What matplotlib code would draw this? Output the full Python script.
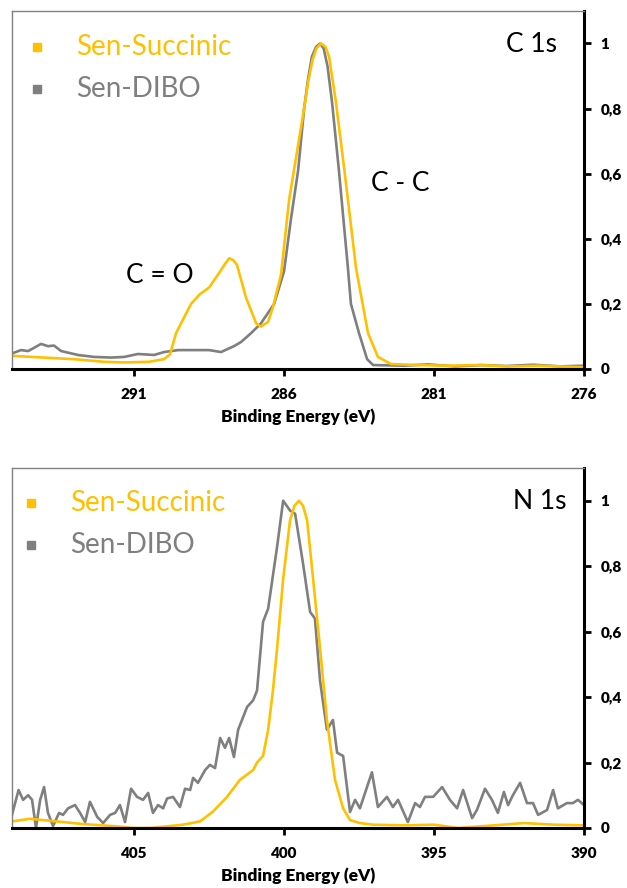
import matplotlib
matplotlib.use("Agg")
import matplotlib.pyplot as plt
from matplotlib.ticker import FuncFormatter

plt.rcParams['font.family'] = ['Lato', 'DejaVu Sans']

YELLOW = '#FFC000'
GREY = '#7F7F7F'

series_names = ['Sen-Succinic', 'Sen-DIBO']

# C 1s
c1s_succ_x = [295.0, 294.0, 293.0, 292.0, 291.3, 290.5, 290.0, 289.8, 289.6, 289.1, 288.8,
              288.5, 288.2, 287.95, 287.83, 287.7, 287.57, 287.27, 286.93, 286.77, 286.53,
              286.37, 286.1, 285.83, 285.67, 285.33, 285.2, 285.05, 284.92, 284.77, 284.62,
              284.5, 284.27, 284.0, 283.87, 283.6, 283.2, 282.87, 282.43, 281.5, 280.5,
              279.5, 278.5, 277.5, 276.5, 276.0]
c1s_succ_y = [0.040, 0.035, 0.030, 0.022, 0.020, 0.022, 0.030, 0.045, 0.11, 0.20, 0.23,
              0.25, 0.29, 0.325, 0.34, 0.335, 0.32, 0.22, 0.14, 0.13, 0.145,
              0.19, 0.29, 0.52, 0.61, 0.80, 0.88, 0.95, 0.985, 1.00, 0.99,
              0.96, 0.82, 0.62, 0.52, 0.31, 0.11, 0.037, 0.015, 0.012, 0.010,
              0.012, 0.008, 0.010, 0.007, 0.005]

c1s_dibo_x = [295.03, 294.77, 294.53, 294.1, 293.87, 293.67, 293.43, 292.87, 292.33, 291.77,
              291.33, 290.87, 290.33, 290.0, 289.53, 288.5, 288.1, 287.67, 287.43, 287.1,
              286.77, 286.33, 286.0, 285.77, 285.53, 285.33, 285.2, 285.07, 284.93, 284.8,
              284.68, 284.55, 284.4, 284.17, 283.87, 283.77, 283.5, 283.23, 283.03, 282.0,
              281.2, 280.3, 279.4, 278.6, 277.7, 276.8, 276.0]
c1s_dibo_y = [0.049, 0.058, 0.055, 0.077, 0.070, 0.072, 0.055, 0.043, 0.037, 0.035,
              0.037, 0.046, 0.043, 0.052, 0.058, 0.058, 0.052, 0.070, 0.083, 0.11,
              0.14, 0.20, 0.30, 0.46, 0.61, 0.80, 0.89, 0.96, 0.99, 1.00,
              0.985, 0.93, 0.82, 0.61, 0.31, 0.20, 0.11, 0.03, 0.012, 0.010,
              0.014, 0.008, 0.012, 0.009, 0.013, 0.008, 0.010]

# N 1s
n1s_succ_x = [409.0, 408.47, 407.8, 406.7, 405.6, 405.0, 404.47, 403.9, 403.37, 402.8,
              402.37, 401.9, 401.47, 401.03, 400.9, 400.7, 400.53, 400.37, 400.23, 400.03,
              399.8, 399.65, 399.5, 399.37, 399.23, 399.03, 398.8, 398.57, 398.3, 398.03,
              397.8, 397.47, 397.03, 396.0, 395.0, 394.2, 393.0, 392.0, 391.0, 390.0]
n1s_succ_y = [0.021, 0.028, 0.022, 0.012, 0.005, 0.0, 0.0, 0.005, 0.010, 0.020,
              0.050, 0.095, 0.147, 0.177, 0.20, 0.22, 0.30, 0.42, 0.55, 0.76,
              0.94, 0.985, 1.00, 0.985, 0.94, 0.76, 0.55, 0.33, 0.147, 0.06,
              0.024, 0.015, 0.010, 0.008, 0.010, 0.0, 0.008, 0.015, 0.010, 0.008]

n1s_dibo_x = [409.07, 408.85, 408.7, 408.53, 408.4, 408.27, 408.13, 408.0, 407.87, 407.7,
              407.5, 407.37, 407.2, 406.97, 406.8, 406.63, 406.47, 406.23, 406.03, 405.8,
              405.63, 405.47, 405.3, 405.1, 404.9, 404.7, 404.53, 404.37, 404.2, 404.03,
              403.9, 403.7, 403.47, 403.3, 403.13, 403.03, 402.87, 402.63, 402.47, 402.3,
              402.13, 401.97, 401.83, 401.67, 401.53, 401.23, 401.03, 400.9, 400.7, 400.53,
              400.23, 400.03, 399.8, 399.63, 399.37, 399.13, 398.97, 398.8, 398.57, 398.37,
              398.23, 398.03, 397.8, 397.63, 397.47, 397.07, 396.87, 396.57, 396.37, 396.2,
              395.87, 395.63, 395.47, 395.3, 395.03, 394.73, 394.47, 394.23, 394.03, 393.73,
              393.57, 393.3, 393.07, 392.87, 392.67, 392.53, 392.37, 392.13, 391.9, 391.7,
              391.53, 391.23, 391.03, 390.87, 390.57, 390.37, 390.2, 390.0]
n1s_dibo_y = [0.040, 0.116, 0.086, 0.100, 0.086, 0.0, 0.086, 0.125, 0.046, 0.006,
              0.046, 0.040, 0.060, 0.070, 0.046, 0.018, 0.080, 0.034, 0.015, 0.040,
              0.046, 0.070, 0.018, 0.120, 0.095, 0.086, 0.107, 0.046, 0.070, 0.060,
              0.090, 0.095, 0.064, 0.120, 0.116, 0.153, 0.138, 0.177, 0.193, 0.183,
              0.275, 0.245, 0.275, 0.217, 0.300, 0.370, 0.390, 0.420, 0.630, 0.670,
              0.860, 1.000, 0.970, 0.960, 0.810, 0.660, 0.640, 0.450, 0.300, 0.330,
              0.230, 0.220, 0.049, 0.086, 0.060, 0.170, 0.064, 0.095, 0.064, 0.086,
              0.018, 0.076, 0.064, 0.095, 0.095, 0.125, 0.086, 0.060, 0.116, 0.030,
              0.055, 0.120, 0.086, 0.046, 0.110, 0.070, 0.100, 0.138, 0.076, 0.076,
              0.040, 0.055, 0.116, 0.060, 0.076, 0.076, 0.086, 0.070]

c1s_ticks = [291, 286, 281, 276]
n1s_ticks = [405, 400, 395, 390]
y_ticks = [0, 0.2, 0.4, 0.6, 0.8, 1.0]

fig = plt.figure(figsize=(6.27, 8.88), dpi=100)
ax1 = fig.add_axes([0.0191, 0.5845, 0.9123, 0.4032])
ax2 = fig.add_axes([0.0191, 0.0676, 0.9123, 0.4054])


def style_axis(ax, xlim, xticks, title):
    ax.set_xlim(*xlim)
    ax.set_ylim(0, 1.1)
    ax.set_xticks(xticks)
    ax.set_yticks(y_ticks)
    ax.yaxis.tick_right()
    ax.yaxis.set_major_formatter(FuncFormatter(lambda v, p: f"{v:g}".replace('.', ',')))
    for s in ['left', 'top']:
        ax.spines[s].set_color('#808080')
        ax.spines[s].set_linewidth(1.0)
    for s in ['right', 'bottom']:
        ax.spines[s].set_color('black')
        ax.spines[s].set_linewidth(2.2)
    ax.tick_params(axis='x', direction='out', length=5, width=2, pad=9, labelsize=11)
    ax.tick_params(axis='y', direction='out', length=5, width=2, pad=7, labelsize=11)
    for lab in ax.get_xticklabels() + ax.get_yticklabels():
        lab.set_fontweight('heavy')
    ax.set_xlabel('Binding Energy (eV)', fontsize=12.5, fontweight='heavy', labelpad=5)
    ax.text(title[1], title[2], title[0], transform=ax.transAxes, fontsize=19,
            ha='right', va='center')


def draw_legend(ax, x_mark, x_text, ys):
    for name, col, y in zip(series_names, [YELLOW, GREY], ys):
        ax.plot([x_mark], [y], 's', color=col, markersize=6, transform=ax.transAxes,
                clip_on=False)
        ax.text(x_text, y, name, color=col, fontsize=20, va='center', ha='left',
                transform=ax.transAxes)


# top panel: C 1s
ax1.plot(c1s_dibo_x, c1s_dibo_y, color=GREY, lw=1.9)
ax1.plot(c1s_succ_x, c1s_succ_y, color=YELLOW, lw=1.9)
style_axis(ax1, (295.07, 276), c1s_ticks, ('C 1s', 0.953, 0.905))
draw_legend(ax1, 0.0437, 0.112, [0.899, 0.782])
ax1.text(0.678, 0.517, 'C - C', transform=ax1.transAxes, fontsize=19, ha='center', va='center')
ax1.text(0.259, 0.26, 'C = O', transform=ax1.transAxes, fontsize=19, ha='center', va='center')

# bottom panel: N 1s
ax2.plot(n1s_dibo_x, n1s_dibo_y, color=GREY, lw=1.9)
ax2.plot(n1s_succ_x, n1s_succ_y, color=YELLOW, lw=1.9)
style_axis(ax2, (409.07, 390), n1s_ticks, ('N 1s', 0.969, 0.908))
draw_legend(ax2, 0.033, 0.101, [0.903, 0.786])

fig.savefig('out.png', dpi=100)
